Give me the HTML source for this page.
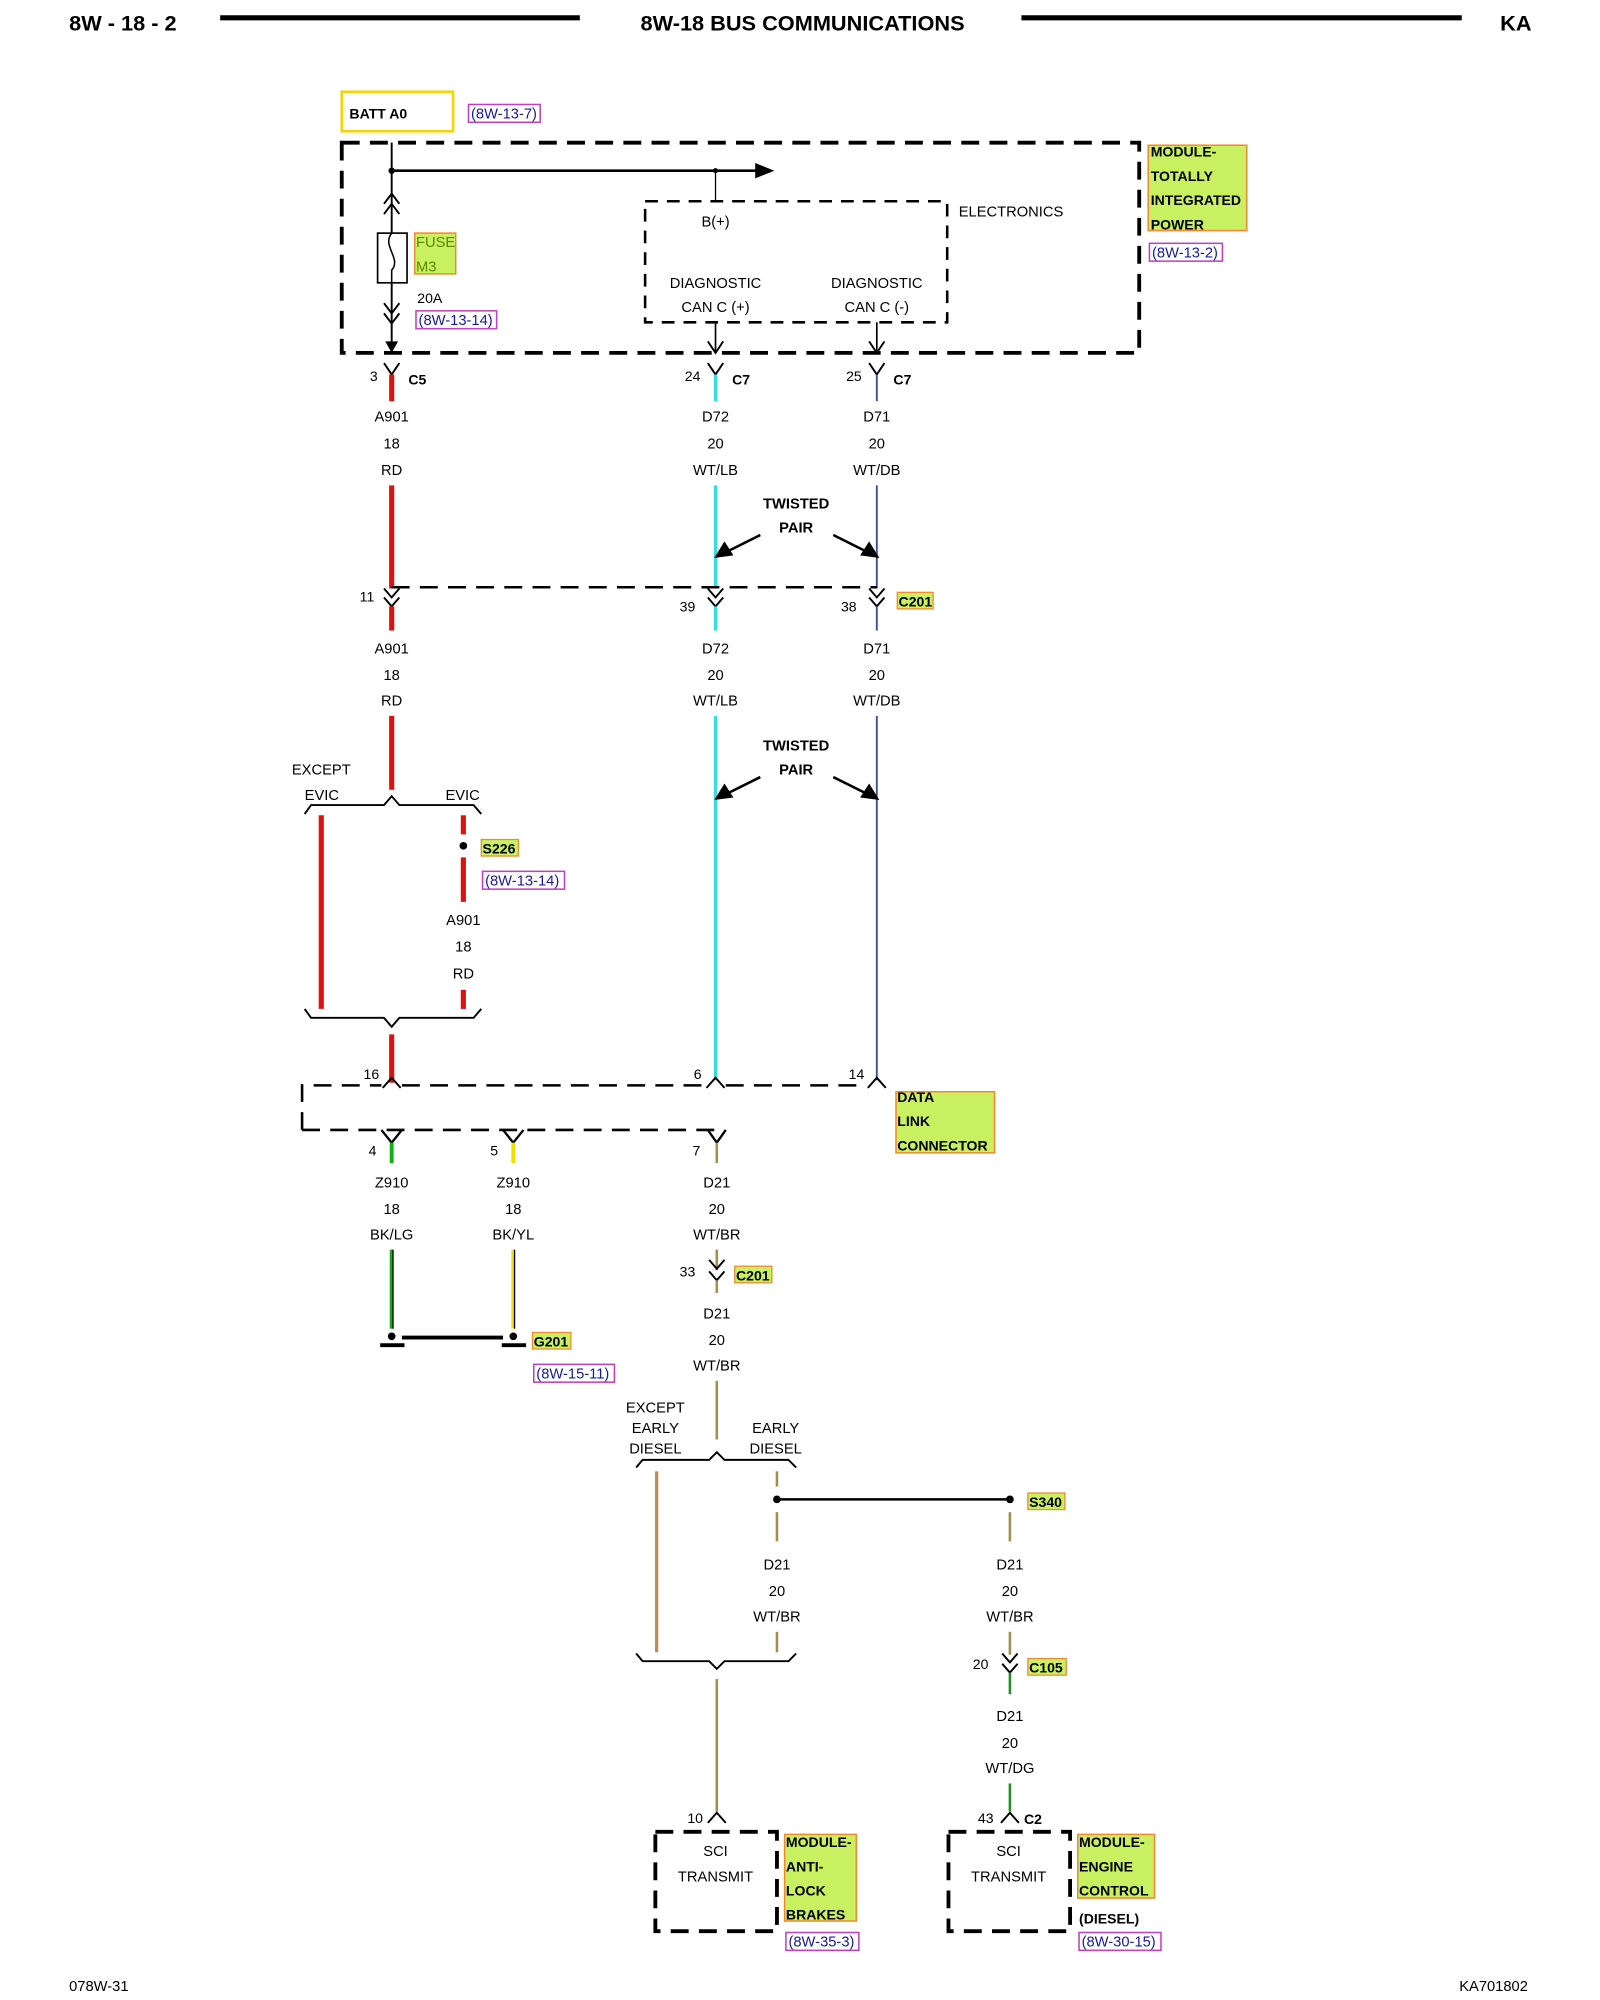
<!DOCTYPE html>
<html><head><meta charset="utf-8"><style>
html,body{margin:0;padding:0;background:#fff;width:1600px;height:2000px;overflow:hidden}
svg{display:block}
text{font-family:"Liberation Sans",sans-serif;font-size:11.5px;fill:#000}
.b{font-weight:bold}
.c{text-anchor:middle}
.ref{fill:#1a1a9a}
</style></head><body>
<svg width="1600" height="2000" viewBox="0 0 1250 1570" preserveAspectRatio="none">
<text x="54" y="24" class="b" style="font-size:17px">8W - 18 - 2</text>
<line x1="172" y1="14" x2="453" y2="14" stroke="#000" stroke-width="4"/>
<text x="627" y="24" class="b c" style="font-size:17px">8W-18 BUS COMMUNICATIONS</text>
<line x1="798" y1="14" x2="1142" y2="14" stroke="#000" stroke-width="4"/>
<text x="1172" y="24" class="b" style="font-size:17px">KA</text>

<rect x="267" y="72" width="87" height="31" fill="#fff" stroke="#f5d400" stroke-width="2"/>
<text x="273" y="93" class="b" style="font-size:11px">BATT A0</text>
<rect x="366" y="82" width="56" height="14" fill="none" stroke="#c040c0" stroke-width="1.2"/>
<text x="368" y="93" class="ref">(8W-13-7)</text>

<rect x="267" y="112" width="623" height="165" fill="none" stroke="#000" stroke-width="3" stroke-dasharray="14,8"/>
<line x1="306" y1="112" x2="306" y2="277" stroke="#000" stroke-width="1.5"/>
<line x1="306" y1="134" x2="592" y2="134" stroke="#000" stroke-width="2"/>
<polygon points="590,128 605,134 590,140" fill="#000"/>
<circle cx="306" cy="134" r="2.5"/><circle cx="559" cy="134" r="2"/>
<line x1="559" y1="134" x2="559" y2="158" stroke="#000" stroke-width="1"/>
<path d="M300,160 L306,152 L312,160 M300,168 L306,160 L312,168" fill="none" stroke="#000" stroke-width="1.5"/>
<rect x="295" y="183" width="23" height="39" fill="#fff" stroke="#000" stroke-width="1.3"/>
<path d="M306,183 C298,193 314,203 306,212 L306,222" fill="none" stroke="#000" stroke-width="1.2"/>
<rect x="324" y="183" width="32" height="32" fill="#c8f060" stroke="#f08a30" stroke-width="1.2"/>
<text x="325" y="194" style="fill:#5a8a00">FUSE</text>
<text x="325" y="213" style="fill:#5a8a00">M3</text>
<text x="326" y="238" style="font-size:11px">20A</text>
<rect x="325" y="244" width="63" height="14" fill="none" stroke="#c040c0" stroke-width="1.2"/>
<text x="327" y="255" class="ref">(8W-13-14)</text>
<path d="M300,238 L306,246 L312,238 M300,246 L306,254 L312,246" fill="none" stroke="#000" stroke-width="1.5"/>
<polygon points="301,268 306,277 311,268" fill="#000"/>

<rect x="504" y="158" width="236" height="95" fill="none" stroke="#000" stroke-width="2" stroke-dasharray="10,7"/>
<text x="749" y="170">ELECTRONICS</text>
<text x="548" y="178">B(+)</text>
<text x="559" y="226" class="c">DIAGNOSTIC</text>
<text x="559" y="245" class="c">CAN C (+)</text>
<text x="685" y="226" class="c">DIAGNOSTIC</text>
<text x="685" y="245" class="c">CAN C (-)</text>
<line x1="559" y1="253" x2="559" y2="277" stroke="#000" stroke-width="1.3"/>
<line x1="685" y1="253" x2="685" y2="277" stroke="#000" stroke-width="1.3"/>
<path d="M553,268 L559,277 L565,268 M679,268 L685,277 L691,268" fill="none" stroke="#000" stroke-width="1.5"/>

<rect x="897" y="114" width="77" height="67" fill="#c8f060" stroke="#f08a30" stroke-width="1.2"/>
<text x="899" y="123" class="b" style="font-size:11px">MODULE-</text>
<text x="899" y="142" class="b" style="font-size:11px">TOTALLY</text>
<text x="899" y="161" class="b" style="font-size:11px">INTEGRATED</text>
<text x="899" y="180" class="b" style="font-size:11px">POWER</text>
<rect x="898" y="191" width="57" height="14" fill="none" stroke="#c040c0" stroke-width="1.2"/>
<text x="900" y="202" class="ref">(8W-13-2)</text>

<path d="M300,285 L306,294 L312,285 M553,285 L559,294 L565,285 M679,285 L685,294 L691,285" fill="none" stroke="#000" stroke-width="1.5"/>
<text x="289" y="299" style="font-size:11px">3</text><text x="319" y="302" class="b" style="font-size:11px">C5</text>
<text x="535" y="299" style="font-size:11px">24</text><text x="572" y="302" class="b" style="font-size:11px">C7</text>
<text x="661" y="299" style="font-size:11px">25</text><text x="698" y="302" class="b" style="font-size:11px">C7</text>
<line x1="306" y1="294" x2="306" y2="315" stroke="#e01010" stroke-width="4"/>
<line x1="559" y1="294" x2="559" y2="315" stroke="#30e0e0" stroke-width="2.5"/>
<line x1="685" y1="294" x2="685" y2="315" stroke="#4050a0" stroke-width="1.5"/>
<text x="306" y="331" class="c">A901</text><text x="306" y="352" class="c">18</text><text x="306" y="373" class="c">RD</text>
<text x="559" y="331" class="c">D72</text><text x="559" y="352" class="c">20</text><text x="559" y="373" class="c">WT/LB</text>
<text x="685" y="331" class="c">D71</text><text x="685" y="352" class="c">20</text><text x="685" y="373" class="c">WT/DB</text>
<line x1="306" y1="381" x2="306" y2="462" stroke="#e01010" stroke-width="4"/>
<line x1="559" y1="381" x2="559" y2="462" stroke="#30e0e0" stroke-width="2.5"/>
<line x1="685" y1="381" x2="685" y2="462" stroke="#4050a0" stroke-width="1.5"/>
<text x="622" y="399" class="b c">TWISTED</text><text x="622" y="418" class="b c">PAIR</text>
<line x1="594" y1="420" x2="568" y2="433" stroke="#000" stroke-width="2"/><polygon points="558,438 566,425 573,436" fill="#000"/>
<line x1="651" y1="420" x2="677" y2="433" stroke="#000" stroke-width="2"/><polygon points="687,438 679,425 672,436" fill="#000"/>

<line x1="306" y1="461" x2="685" y2="461" stroke="#000" stroke-width="2" stroke-dasharray="14,8"/>
<path d="M300,462 L306,469 L312,462 M300,469 L306,476 L312,469 M553,462 L559,469 L565,462 M553,469 L559,476 L565,469 M679,462 L685,469 L691,462 M679,469 L685,476 L691,469" fill="none" stroke="#000" stroke-width="1.5"/>
<text x="281" y="472" style="font-size:11px">11</text>
<text x="531" y="480" style="font-size:11px">39</text>
<text x="657" y="480" style="font-size:11px">38</text>
<rect x="701" y="465" width="28" height="13" fill="#c8f060" stroke="#f08a30"/>
<text x="702" y="476" class="b" style="font-size:11px">C201</text>
<line x1="306" y1="476" x2="306" y2="495" stroke="#e01010" stroke-width="4"/>
<line x1="559" y1="476" x2="559" y2="495" stroke="#30e0e0" stroke-width="2.5"/>
<line x1="685" y1="476" x2="685" y2="495" stroke="#4050a0" stroke-width="1.5"/>
<text x="306" y="513" class="c">A901</text><text x="306" y="534" class="c">18</text><text x="306" y="554" class="c">RD</text>
<text x="559" y="513" class="c">D72</text><text x="559" y="534" class="c">20</text><text x="559" y="554" class="c">WT/LB</text>
<text x="685" y="513" class="c">D71</text><text x="685" y="534" class="c">20</text><text x="685" y="554" class="c">WT/DB</text>
<line x1="306" y1="562" x2="306" y2="620" stroke="#e01010" stroke-width="4"/>
<line x1="559" y1="562" x2="559" y2="848" stroke="#30e0e0" stroke-width="2.5"/>
<line x1="685" y1="562" x2="685" y2="848" stroke="#4050a0" stroke-width="1.5"/>
<text x="622" y="589" class="b c">TWISTED</text><text x="622" y="608" class="b c">PAIR</text>
<line x1="594" y1="610" x2="568" y2="623" stroke="#000" stroke-width="2"/><polygon points="558,628 566,615 573,626" fill="#000"/>
<line x1="651" y1="610" x2="677" y2="623" stroke="#000" stroke-width="2"/><polygon points="687,628 679,615 672,626" fill="#000"/>

<text x="228" y="608">EXCEPT</text>
<text x="238" y="628">EVIC</text><text x="348" y="628">EVIC</text>
<path d="M238,639 L243,632 L300,632 L306,625 L312,632 L370,632 L376,639" fill="none" stroke="#000" stroke-width="1.5"/>
<line x1="251" y1="640" x2="251" y2="792" stroke="#e01010" stroke-width="4"/>
<line x1="362" y1="640" x2="362" y2="655" stroke="#e01010" stroke-width="4"/>
<circle cx="362" cy="664" r="3"/>
<rect x="376" y="659" width="29" height="13" fill="#c8f060" stroke="#f08a30"/>
<text x="377" y="670" class="b" style="font-size:11px">S226</text>
<line x1="362" y1="673" x2="362" y2="708" stroke="#e01010" stroke-width="4"/>
<rect x="377" y="684" width="64" height="14" fill="none" stroke="#c040c0" stroke-width="1.2"/>
<text x="379" y="695" class="ref">(8W-13-14)</text>
<text x="362" y="726" class="c">A901</text><text x="362" y="747" class="c">18</text><text x="362" y="768" class="c">RD</text>
<line x1="362" y1="777" x2="362" y2="792" stroke="#e01010" stroke-width="4"/>
<path d="M238,792 L243,799 L300,799 L306,806 L312,799 L370,799 L376,792" fill="none" stroke="#000" stroke-width="1.5"/>
<line x1="306" y1="812" x2="306" y2="850" stroke="#e01010" stroke-width="4"/>

<path d="M236,887 L236,852 L298,852 M314,852 L551,852 M567,852 L677,852" fill="none" stroke="#000" stroke-width="2" stroke-dasharray="14,8"/>
<path d="M236,887 L560,887" fill="none" stroke="#000" stroke-width="2" stroke-dasharray="14,8"/>
<path d="M299,854 L306,846 L313,854 M552,854 L559,846 L566,854 M678,854 L685,846 L692,854" fill="none" stroke="#000" stroke-width="1.5"/>
<text x="284" y="847" style="font-size:11px">16</text>
<text x="542" y="847" style="font-size:11px">6</text>
<text x="663" y="847" style="font-size:11px">14</text>
<rect x="700" y="857" width="77" height="48" fill="#c8f060" stroke="#f08a30" stroke-width="1.2"/>
<text x="701" y="865" class="b" style="font-size:11px">DATA</text>
<text x="701" y="884" class="b" style="font-size:11px">LINK</text>
<text x="701" y="903" class="b" style="font-size:11px">CONNECTOR</text>
<path d="M298,887 L306,897 L314,887 M393,887 L401,897 L409,887 M553,887 L560,897 L567,887" fill="none" stroke="#000" stroke-width="1.8"/>
<text x="288" y="907" style="font-size:11px">4</text>
<text x="383" y="907" style="font-size:11px">5</text>
<text x="541" y="907" style="font-size:11px">7</text>
<line x1="306" y1="897" x2="306" y2="913" stroke="#10b010" stroke-width="3"/>
<line x1="401" y1="897" x2="401" y2="913" stroke="#f0e000" stroke-width="3"/>
<line x1="560" y1="897" x2="560" y2="913" stroke="#a09050" stroke-width="2"/>
<text x="306" y="932" class="c">Z910</text><text x="306" y="953" class="c">18</text><text x="306" y="973" class="c">BK/LG</text>
<text x="401" y="932" class="c">Z910</text><text x="401" y="953" class="c">18</text><text x="401" y="973" class="c">BK/YL</text>
<text x="560" y="932" class="c">D21</text><text x="560" y="953" class="c">20</text><text x="560" y="973" class="c">WT/BR</text>
<line x1="306" y1="981" x2="306" y2="1043" stroke="#10b010" stroke-width="3"/>
<line x1="401" y1="981" x2="401" y2="1043" stroke="#f0e000" stroke-width="3"/>
<line x1="307" y1="981" x2="307" y2="1043" stroke="#000" stroke-width="1"/>
<line x1="402" y1="981" x2="402" y2="1043" stroke="#000" stroke-width="1"/>
<circle cx="306" cy="1049" r="3"/><circle cx="401" cy="1049" r="3"/>
<line x1="314" y1="1050" x2="393" y2="1050" stroke="#000" stroke-width="3"/>
<line x1="297" y1="1056" x2="316" y2="1056" stroke="#000" stroke-width="3"/>
<line x1="392" y1="1056" x2="411" y2="1056" stroke="#000" stroke-width="3"/>
<rect x="416" y="1046" width="30" height="13" fill="#c8f060" stroke="#f08a30"/>
<text x="417" y="1057" class="b" style="font-size:11px">G201</text>
<rect x="417" y="1071" width="63" height="14" fill="none" stroke="#c040c0" stroke-width="1.2"/>
<text x="419" y="1082" class="ref">(8W-15-11)</text>

<line x1="560" y1="981" x2="560" y2="997" stroke="#a09050" stroke-width="2"/>
<path d="M554,989 L560,996 L566,989 M554,998 L560,1005 L566,998" fill="none" stroke="#000" stroke-width="1.5"/>
<text x="531" y="1002" style="font-size:11px">33</text>
<rect x="574" y="994" width="29" height="13" fill="#c8f060" stroke="#f08a30"/>
<text x="575" y="1005" class="b" style="font-size:11px">C201</text>
<line x1="560" y1="1005" x2="560" y2="1015" stroke="#a09050" stroke-width="2"/>
<text x="560" y="1035" class="c">D21</text><text x="560" y="1056" class="c">20</text><text x="560" y="1076" class="c">WT/BR</text>
<line x1="560" y1="1084" x2="560" y2="1130" stroke="#a09050" stroke-width="2"/>
<text x="512" y="1109" class="c">EXCEPT</text><text x="512" y="1125" class="c">EARLY</text><text x="512" y="1141" class="c">DIESEL</text>
<text x="606" y="1125" class="c">EARLY</text><text x="606" y="1141" class="c">DIESEL</text>
<path d="M497,1152 L502,1146 L554,1146 L560,1140 L566,1146 L616,1146 L622,1152" fill="none" stroke="#000" stroke-width="1.5"/>
<line x1="513" y1="1155" x2="513" y2="1297" stroke="#b88a60" stroke-width="2.5"/>
<line x1="607" y1="1155" x2="607" y2="1167" stroke="#a09050" stroke-width="2"/>
<circle cx="607" cy="1177" r="3"/><circle cx="789" cy="1177" r="3"/>
<line x1="607" y1="1177" x2="789" y2="1177" stroke="#000" stroke-width="2"/>
<rect x="803" y="1172" width="29" height="13" fill="#c8f060" stroke="#f08a30"/>
<text x="804" y="1183" class="b" style="font-size:11px">S340</text>
<line x1="607" y1="1187" x2="607" y2="1210" stroke="#a09050" stroke-width="2"/>
<line x1="789" y1="1187" x2="789" y2="1210" stroke="#a09050" stroke-width="2"/>
<text x="607" y="1232" class="c">D21</text><text x="607" y="1253" class="c">20</text><text x="607" y="1273" class="c">WT/BR</text>
<text x="789" y="1232" class="c">D21</text><text x="789" y="1253" class="c">20</text><text x="789" y="1273" class="c">WT/BR</text>
<line x1="607" y1="1281" x2="607" y2="1297" stroke="#a09050" stroke-width="2"/>
<path d="M497,1298 L502,1304 L554,1304 L560,1310 L566,1304 L616,1304 L622,1298" fill="none" stroke="#000" stroke-width="1.5"/>
<line x1="560" y1="1318" x2="560" y2="1422" stroke="#a09050" stroke-width="2"/>

<line x1="789" y1="1281" x2="789" y2="1299" stroke="#a09050" stroke-width="2"/>
<path d="M783,1298 L789,1305 L795,1298 M783,1306 L789,1313 L795,1306" fill="none" stroke="#000" stroke-width="1.5"/>
<text x="760" y="1310" style="font-size:11px">20</text>
<rect x="803" y="1302" width="30" height="13" fill="#c8f060" stroke="#f08a30"/>
<text x="804" y="1313" class="b" style="font-size:11px">C105</text>
<line x1="789" y1="1313" x2="789" y2="1330" stroke="#209020" stroke-width="2"/>
<text x="789" y="1351" class="c">D21</text><text x="789" y="1372" class="c">20</text><text x="789" y="1392" class="c">WT/DG</text>
<line x1="789" y1="1400" x2="789" y2="1422" stroke="#209020" stroke-width="2"/>

<path d="M553,1431 L560,1423 L567,1431 M782,1431 L789,1423 L796,1431" fill="none" stroke="#000" stroke-width="1.5"/>
<text x="537" y="1431" style="font-size:11px">10</text>
<text x="764" y="1431" style="font-size:11px">43</text>
<text x="800" y="1432" class="b" style="font-size:11px">C2</text>
<rect x="512" y="1438" width="95" height="78" fill="none" stroke="#000" stroke-width="3" stroke-dasharray="14,8"/>
<rect x="741" y="1438" width="95" height="78" fill="none" stroke="#000" stroke-width="3" stroke-dasharray="14,8"/>
<text x="559" y="1457" class="c">SCI</text><text x="559" y="1477" class="c">TRANSMIT</text>
<text x="788" y="1457" class="c">SCI</text><text x="788" y="1477" class="c">TRANSMIT</text>
<rect x="613" y="1440" width="56" height="68" fill="#c8f060" stroke="#f08a30" stroke-width="1.2"/>
<text x="614" y="1450" class="b" style="font-size:11px">MODULE-</text>
<text x="614" y="1469" class="b" style="font-size:11px">ANTI-</text>
<text x="614" y="1488" class="b" style="font-size:11px">LOCK</text>
<text x="614" y="1507" class="b" style="font-size:11px">BRAKES</text>
<rect x="614" y="1517" width="57" height="14" fill="none" stroke="#c040c0" stroke-width="1.2"/>
<text x="616" y="1528" class="ref">(8W-35-3)</text>
<rect x="842" y="1440" width="60" height="50" fill="#c8f060" stroke="#f08a30" stroke-width="1.2"/>
<text x="843" y="1450" class="b" style="font-size:11px">MODULE-</text>
<text x="843" y="1469" class="b" style="font-size:11px">ENGINE</text>
<text x="843" y="1488" class="b" style="font-size:11px">CONTROL</text>
<text x="843" y="1510" class="b" style="font-size:11px">(DIESEL)</text>
<rect x="843" y="1517" width="64" height="14" fill="none" stroke="#c040c0" stroke-width="1.2"/>
<text x="845" y="1528" class="ref">(8W-30-15)</text>

<text x="54" y="1563">078W-31</text>
<text x="1140" y="1563">KA701802</text>
</svg>
</body></html>
